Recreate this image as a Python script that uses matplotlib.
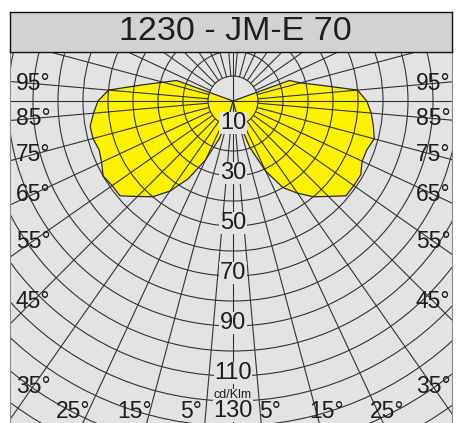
import numpy as np
import matplotlib.pyplot as plt
from matplotlib.patches import Circle

plt.rcParams['font.family'] = ['Liberation Sans', 'DejaVu Sans']

# Chart data (photometric curve, cd/klm per gamma angle)
title = '1230 - JM-E 70'
unit_label = 'cd/Klm'
gamma = [0, 5, 10, 15, 20, 25, 30, 35, 40, 45, 50, 55, 60, 65, 70, 75, 80, 85,
         90, 95, 100, 105, 110, 115]
cd_left = [0, 0, 0, 6, 16, 26, 36, 44, 50, 54, 59, 59, 60, 58, 57, 58, 58, 56,
           54, 50, 37, 29, 24, 0]
cd_right = [0, 0, 0, 8, 20, 31, 40, 45, 50, 54, 59, 59, 59, 57, 57, 58.5, 57, 55.5,
            53.5, 50, 36, 28, 24, 0]
ring_labels = [10, 30, 50, 70, 90, 110, 130]
side_angles = [95, 85, 75, 65, 55, 45, 35]
bottom_angles = [25, 15, 5]

BG = '#e3e3e3'
TITLE_BG = '#d2d2d2'
GRID = '#333333'
YELLOW = '#fff200'
TXT = '#1e1e1e'

fig = plt.figure(figsize=(4.6, 4.23), dpi=100)

# main polar area (pixel scale 2.5 px per cd/klm, centre at (233, 101))
ax = fig.add_axes([10 / 460, 0, 442 / 460, 371 / 423])
ax.set_xlim(-89.2, 87.6)
ax.set_ylim(-128.8, 19.6)
ax.set_facecolor(BG)
ax.set_xticks([])
ax.set_yticks([])
for name, s in ax.spines.items():
    s.set_color('#8a8a8a')
    s.set_linewidth(0.8)
ax.spines['bottom'].set_visible(False)
ax.spines['top'].set_visible(False)

# lobes
g = np.radians(gamma)
for side, cd in ((-1, np.array(cd_left)), (1, np.array(cd_right))):
    xs = side * cd * np.sin(g)
    ys = -cd * np.cos(g)
    ax.fill(xs, ys, color=YELLOW, lw=0, zorder=1)
    ax.plot(np.append(xs, xs[0]), np.append(ys, ys[0]), color='#2a2a2a',
            lw=0.9, zorder=3)

# grid circles
for r in range(10, 170, 10):
    ax.add_patch(Circle((0, 0), r, fill=False, ec=GRID, lw=0.8, zorder=2))

# radial lines
for a in range(5, 180, 10):
    t = np.radians(a)
    for side in (-1, 1):
        ax.plot([side * 10 * np.sin(t), side * 200 * np.sin(t)],
                [-10 * np.cos(t), -200 * np.cos(t)], color=GRID, lw=0.8, zorder=2)
ax.plot([0, 0], [-200, 200], color=GRID, lw=0.8, zorder=2)
ax.plot([-200, 200], [0, 0], color=GRID, lw=0.8, zorder=2)

# intensity labels along the 0 deg line
for v in ring_labels[:-1]:
    ax.annotate(str(v), xy=(0, -v), xytext=(0, 3), textcoords='offset pixels',
                ha='center', va='center', fontsize=17, color=TXT, zorder=4,
                bbox=dict(fc=BG, ec='none', pad=0.4))
ax.annotate(unit_label, xy=(0, -ring_labels[-2]), xytext=(0, -19),
            textcoords='offset pixels', ha='center', va='center', fontsize=9,
            color=TXT, zorder=4, bbox=dict(fc=BG, ec='none', pad=0.2))
ax.annotate(str(ring_labels[-1]), xy=(0, -128.8), xytext=(0, 1),
            textcoords='offset pixels', ha='center', va='bottom', fontsize=17,
            color=TXT, zorder=4, bbox=dict(fc=BG, ec='none', pad=0.4))

# angle labels
for a in side_angles:
    y = -80 / np.tan(np.radians(a))
    for side in (-1, 1):
        ax.text(side * 80, y, f'{a}°', ha='center', va='center', fontsize=16.5,
                color=TXT, zorder=4)
for a in bottom_angles:
    x = 124 * np.tan(np.radians(a))
    ax.text(-x - 6, -124, f'{a}°', ha='center', va='center', fontsize=16.5,
            color=TXT, zorder=4)
    ax.text(x + 4, -124, f'{a}°', ha='center', va='center', fontsize=16.5,
            color=TXT, zorder=4)

# title box
tax = fig.add_axes([10 / 460, 371 / 423, 442 / 460, 40 / 423])
tax.set_facecolor(TITLE_BG)
tax.set_xticks([])
tax.set_yticks([])
for s in tax.spines.values():
    s.set_color('#111111')
    s.set_linewidth(1.0)
tax.text(0.51, 0.5, title, ha='center', va='center', fontsize=24.5, color=TXT,
         transform=tax.transAxes)

fig.savefig('out.png', dpi=100)
